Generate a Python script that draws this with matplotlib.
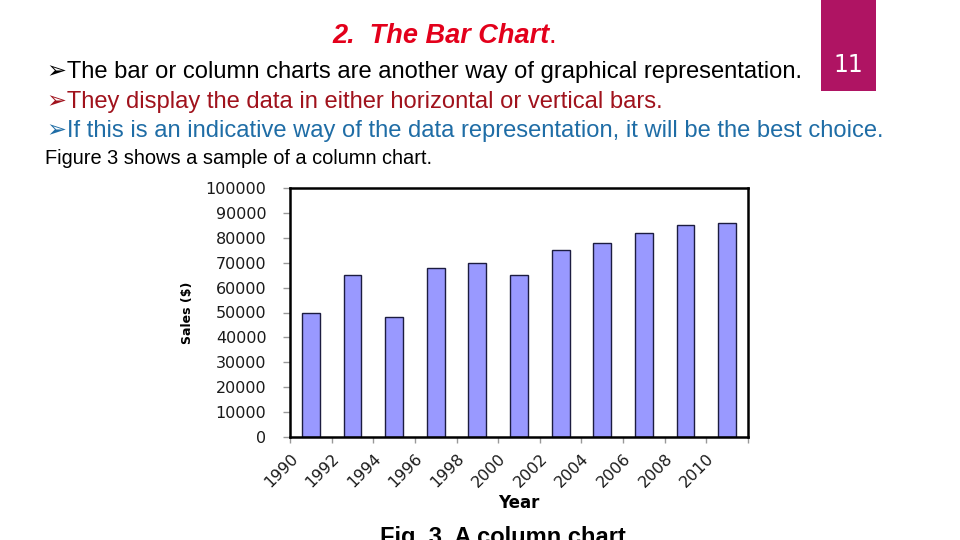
import matplotlib
matplotlib.use("Agg")
import matplotlib.pyplot as plt
import numpy as np

# ---- data ----
year_labels = ["1990", "1992", "1994", "1996", "1998", "2000",
               "2002", "2004", "2006", "2008", "2010"]
sales = [50000, 65000, 48000, 68000, 70000, 65000,
         75000, 78000, 82000, 85000, 86000]
y_ticks = list(range(0, 100001, 10000))

title_text = "2.  The Bar Chart"
bullets = [
    ("The bar or column charts are another way of graphical representation.", "#000000"),
    ("They display the data in either horizontal or vertical bars.", "#A0121C"),
    ("If this is an indicative way of the data representation, it will be the best choice.", "#1F6DA6"),
]
intro = "Figure 3 shows a sample of a column chart."
caption = "Fig. 3. A column chart"
slide_no = "11"

W, H = 960, 540
fig = plt.figure(figsize=(9.6, 5.4), dpi=100)
fig.patch.set_facecolor("white")

def P(x, y):
    return (x / W, 1 - y / H)

sans = ["Liberation Sans", "DejaVu Sans"]

# slide number box
fig.patches.append(plt.Rectangle(P(821, 91), 55 / W, 91 / H, transform=fig.transFigure,
                                 facecolor="#AF1463", edgecolor="none", zorder=0))
fig.text(*P(848, 65), slide_no, color="white", fontsize=17, family=["DejaVu Sans"],
         ha="center", va="center")

# title
t = fig.text(*P(332, 43), title_text, color="#E3001B", fontsize=19.5, family=sans,
             fontweight="bold", fontstyle="italic", ha="left", va="baseline")
fig.canvas.draw()
bb = t.get_window_extent()
fig.text(bb.x1 / W - 1 / W, 1 - 43 / H, ".", color="#E3001B", fontsize=19.5, family=sans,
         ha="left", va="baseline")

# bullets
base_y = [78, 108, 137]
for (txt, col), by in zip(bullets, base_y):
    fig.text(*P(47, by), "\u27A2" + txt, color=col, fontsize=17.1,
             family=sans, ha="left", va="baseline")

fig.text(*P(45, 164), intro, color="black", fontsize=14.4, family=sans,
         ha="left", va="baseline")

# ---- chart ----
ax = fig.add_axes([290 / W, (H - 437) / H, (748 - 290) / W, (437 - 188) / H])
n = len(sales)
pos = np.arange(n) + 0.5
ax.bar(pos, sales, width=0.43, color="#9999FF", edgecolor="#1C1C40", linewidth=1.0, zorder=2)
ax.set_xlim(0, n)
ax.set_ylim(0, 100000)
ax.set_yticks(y_ticks)
ax.set_yticklabels([str(v) for v in y_ticks], family="DejaVu Sans", fontsize=11.5, color="#1a1a1a")
ax.set_xticks(np.arange(n + 1))
ax.set_xticklabels(year_labels + [""], rotation=45, ha="right", rotation_mode="anchor",
                   family="DejaVu Sans", fontsize=11.5, color="#1a1a1a")
ax.tick_params(axis="y", length=5, width=1, color="#999999", pad=12)
ax.tick_params(axis="x", length=4, width=1, color="#999999", pad=6)
for s in ax.spines.values():
    s.set_linewidth(1.8)
    s.set_color("black")
ax.set_xlabel("Year", family="DejaVu Sans", fontweight="bold", fontsize=12, labelpad=3)
ax.set_ylabel("Sales ($)", family="DejaVu Sans", fontweight="bold", fontsize=9, labelpad=8)

fig.text(*P(503, 544), caption, color="black", fontsize=17, family=sans,
         fontweight="bold", ha="center", va="baseline")

fig.savefig("out.png", dpi=100)
